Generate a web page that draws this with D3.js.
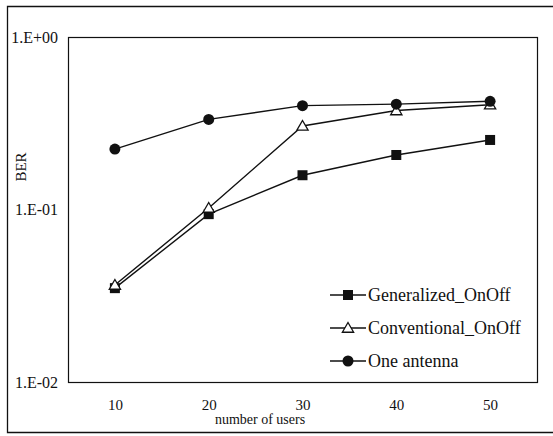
<!DOCTYPE html>
<html>
<head>
<meta charset="utf-8">
<script src="https://cdn.jsdelivr.net/npm/d3@7"></script>
<style>
  body { margin: 0; background: #fff; }
</style>
</head>
<body>
<main></main>
<script>
// data
let users = [10, 20, 30, 40, 50]
let generalized = [0.035, 0.094, 0.158, 0.207, 0.253]
let conventional = [0.0365, 0.102, 0.305, 0.375, 0.405]
let oneAntenna = [0.224, 0.333, 0.400, 0.408, 0.424]
let yTicks = [1, 0.1, 0.01]
let yTickLabels = ['1.E+00', '1.E-01', '1.E-02']
let seriesNames = ['Generalized_OnOff', 'Conventional_OnOff', 'One antenna']

let W = 553, H = 436
let plotL = 68, plotR = 537, plotT = 37, plotB = 382
let serif = '"Liberation Serif", "Times New Roman", Times, serif'

let svg = d3.select('main').append('svg')
    .attr('width', W)
    .attr('height', H)
    .style('display', 'block')

// outer frame (right side cut off in the scan)
svg.append('path')
    .attr('d', `M${W},6.5 H7.5 V432.5 H${W}`)
    .attr('fill', 'none')
    .attr('stroke', '#111')
    .attr('stroke-width', 1.3)

let x = d3.scalePoint().domain(users).range([plotL, plotR]).padding(0.5)
let y = d3.scaleLog().domain([0.01, 1]).range([plotB, plotT])

// plot box
svg.append('rect')
    .attr('x', plotL + 0.5)
    .attr('y', plotT + 0.5)
    .attr('width', plotR - plotL)
    .attr('height', plotB - plotT)
    .attr('fill', 'none')
    .attr('stroke', '#111')
    .attr('stroke-width', 1.2)

// y axis labels
let yAxis = svg.append('g')
    .attr('transform', `translate(${plotL},0)`)
    .call(d3.axisLeft(y).tickValues(yTicks).tickSize(0).tickPadding(10)
        .tickFormat((d, i) => yTickLabels[i]))
yAxis.select('.domain').remove()
yAxis.selectAll('text')
    .style('font-family', serif)
    .style('font-size', '16px')
    .attr('fill', '#111')

// x axis labels
let xAxis = svg.append('g')
    .attr('transform', `translate(0,${plotB})`)
    .call(d3.axisBottom(x).tickSize(0).tickPadding(17))
xAxis.select('.domain').remove()
xAxis.selectAll('text')
    .style('font-family', serif)
    .style('font-size', '15px')
    .attr('fill', '#111')

svg.append('text')
    .attr('x', 260)
    .attr('y', 424)
    .attr('text-anchor', 'middle')
    .style('font-family', serif)
    .style('font-size', '14px')
    .attr('fill', '#111')
    .text('number of users')

svg.append('text')
    .attr('transform', 'translate(26,167) rotate(-90)')
    .attr('text-anchor', 'middle')
    .style('font-family', serif)
    .style('font-size', '15px')
    .attr('fill', '#111')
    .text('BER')

let line = d3.line().x((d, i) => x(users[i])).y(d => y(d))

let allSeries = [generalized, conventional, oneAntenna]
let shapes = ['square', 'triangle', 'circle']

function marker(g, shape, cx, cy) {
    if (shape == 'square') {
        g.append('rect')
            .attr('x', cx - 5).attr('y', cy - 5)
            .attr('width', 10).attr('height', 10)
            .attr('fill', '#111')
    } else if (shape == 'triangle') {
        g.append('path')
            .attr('d', d3.symbol(d3.symbolTriangle, 55)())
            .attr('transform', `translate(${cx},${cy + 1})`)
            .attr('fill', '#fff')
            .attr('stroke', '#111')
            .attr('stroke-width', 1.3)
    } else {
        g.append('circle')
            .attr('cx', cx).attr('cy', cy).attr('r', 5.5)
            .attr('fill', '#111')
    }
}

allSeries.forEach((s, k) => {
    svg.append('path')
        .datum(s)
        .attr('d', line)
        .attr('fill', 'none')
        .attr('stroke', '#111')
        .attr('stroke-width', 1.4)
})
allSeries.forEach((s, k) => {
    let g = svg.append('g')
    s.forEach((v, i) => marker(g, shapes[k], x(users[i]), y(v)))
})

// legend
let legendY = [295, 328, 361]
seriesNames.forEach((name, k) => {
    let g = svg.append('g')
    g.append('line')
        .attr('x1', 330).attr('x2', 366)
        .attr('y1', legendY[k]).attr('y2', legendY[k])
        .attr('stroke', '#111')
        .attr('stroke-width', 1.4)
    marker(g, shapes[k], 348, legendY[k])
    g.append('text')
        .attr('x', 368)
        .attr('y', legendY[k] + 6)
        .style('font-family', serif)
        .style('font-size', '18px')
        .attr('fill', '#111')
        .text(name)
})
</script>
</body>
</html>
